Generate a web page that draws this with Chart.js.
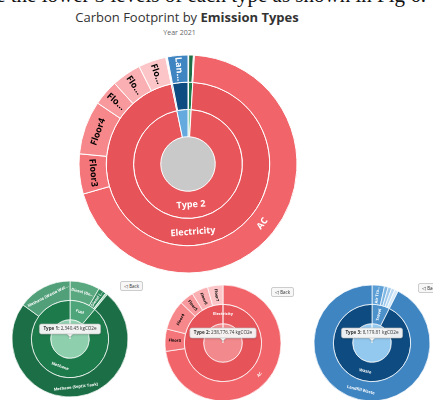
<!DOCTYPE html>
<html>
<head>
<meta charset="utf-8">
<script src="https://cdn.jsdelivr.net/npm/chart.js@4"></script>
<style>
  html, body { margin: 0; padding: 0; background: #fff; }
  body { width: 433px; height: 400px; position: relative; overflow: hidden; font-family: "Open Sans", sans-serif; }
  .caption { position: absolute; right: 7px; top: -15px; font: 21px/20px "Liberation Serif", serif; color: #111; white-space: nowrap; }
  .title { position: absolute; top: 8px; left: 0; width: 374px; text-align: center; font-size: 13px; color: #333; }
  .subtitle { position: absolute; top: 28px; left: 0; width: 359px; text-align: center; font-size: 7px; color: #666; }
  .box { position: absolute; }
  .back { position: absolute; font-size: 4.5px; line-height: 8px; padding: 0 3px; color: #333;
          background: #f7f7f7; border: 1px solid #cccccc; border-radius: 2px; white-space: nowrap; }
</style>
</head>
<body>
<div class="caption">are the lower 3 levels of each type as shown in Fig 6.</div>
<div class="title">Carbon Footprint by <b>Emission Types</b></div>
<div class="subtitle">Year 2021</div>

<div class="box" style="left:78px; top:54px; width:220px; height:220px;"><canvas id="main-chart"></canvas></div>
<div class="box" style="left:11px; top:280px; width:118px; height:118px;"><canvas id="type1-chart"></canvas></div>
<div class="box" style="left:164px; top:284px; width:118px; height:118px;"><canvas id="type2-chart"></canvas></div>
<div class="box" style="left:313px; top:284px; width:118px; height:118px;"><canvas id="type3-chart"></canvas></div>

<div class="back" style="left:120px; top:281px;">◁ Back</div>
<div class="back" style="left:271px; top:287px;">◁ Back</div>
<div class="back" style="left:418px; top:283px;">◁ Back</div>

<script>
// Level 1: emission types (kgCO2e)
const typeNames = ['Type 1', 'Type 2', 'Type 3'];
const typeTotals = [2340.45, 238776.74, 8179.81];

// Level 2: categories, with the type each one sits under
const categoryNames = ['Fuel', 'Methane', 'Electricity', 'Travel', 'Waste'];
const categoryType = [0, 0, 1, 2, 2];

// Level 3: sources, with their category and value (kgCO2e)
const sourceNames = ['Diesel (Generator)', 'Diesel (Vehicles)', 'Petrol',
    'Methane (Septic Tank)', 'Methane (Waste Water)',
    'AC', 'Floor3', 'Floor4', 'Floor5', 'Floor6', 'Floor7',
    'Air Travel', 'Taxi', 'Bus', 'Train', 'Car Hire', 'Landfill Waste'];
const sourceCategory = [0, 0, 0, 1, 1, 2, 2, 2, 2, 2, 2, 3, 3, 3, 3, 3, 4];
const sourceValues = [195, 52, 13, 1729.35, 351.1,
    173546.74, 14820, 19800, 9490, 10870, 10250,
    284, 85, 80, 78, 82, 7570.81];

// Colours
const rootGrey = '#c9c9c9';
const typeColors = ['#86d2a6', '#e8565c', '#65aade'];
const typeRootColors = ['#8ecfad', '#f2898d', '#93c9ef'];
const categoryColors = ['#4ea57a', '#1d7a4b', '#e6545a', '#4d91cb', '#0d4b80'];
const sourceColors = ['#5aa880', '#2f8a5e', '#a6dcbf', '#1b6e45', '#52a07a',
    '#f1646a', '#f4767b', '#f6878b', '#f89a9d', '#faafb2', '#fcc6c8',
    '#5b9fd6', '#80b6e2', '#9dc8eb', '#b9d9f2', '#d4e8f7', '#3e85c2'];

const categoryValues = categoryNames.map((n, c) =>
    sourceValues.reduce((s, v, i) => s + (sourceCategory[i] === c ? v : 0), 0));

function isLight(hex) {
    const n = parseInt(hex.slice(1), 16);
    return 0.299 * (n >> 16) + 0.587 * ((n >> 8) & 255) + 0.114 * (n & 255) > 150;
}

function fitText(ctx, text, max) {
    if (ctx.measureText(text).width <= max) return text;
    for (let n = text.length - 1; n > 0; n--) {
        const t = text.slice(0, n).trimEnd() + '…';
        if (ctx.measureText(t).width <= max) return t;
    }
    return '';
}

// Sunburst style labels: along the arc when there is room, otherwise radial
const sunburstLabels = {
    id: 'sunburstLabels',
    afterDatasetsDraw(chart, args, opts) {
        const ctx = chart.ctx;
        const size = opts.size || 9;
        ctx.save();
        ctx.font = 'bold ' + size + 'px "Open Sans"';
        ctx.textAlign = 'center';
        ctx.textBaseline = 'middle';
        chart.data.datasets.forEach((ds, di) => {
            if (!ds.labels) return;
            chart.getDatasetMeta(di).data.forEach((arc, i) => {
                const text = ds.labels[i];
                if (!text) return;
                const p = arc.getProps(['x', 'y', 'startAngle', 'endAngle', 'innerRadius', 'outerRadius'], true);
                const span = p.endAngle - p.startAngle;
                const r = (p.innerRadius + p.outerRadius) / 2;
                const thick = p.outerRadius - p.innerRadius;
                let mid = p.startAngle + span / 2;
                let rot, avail;
                if (span > Math.PI * 2 - 1e-6) {
                    mid = -Math.PI / 2; rot = 0; avail = thick * 3;
                } else if (span * r > thick) {
                    rot = mid + Math.PI / 2; avail = span * r;
                } else {
                    if (span * r < size * 1.6) return;
                    rot = mid; avail = thick - 1;
                }
                rot = Math.atan2(Math.sin(rot), Math.cos(rot));
                if (rot > Math.PI / 2) rot -= Math.PI;
                else if (rot < -Math.PI / 2) rot += Math.PI;
                const label = fitText(ctx, text, avail);
                if (!label) return;
                ctx.save();
                ctx.translate(p.x + r * Math.cos(mid), p.y + r * Math.sin(mid));
                ctx.rotate(rot);
                ctx.fillStyle = isLight(arc.options.backgroundColor) ? '#000' : '#fff';
                ctx.fillText(label, 0, 0);
                ctx.restore();
            });
        });
        ctx.restore();
    }
};

// Tooltip box pinned above the centre of a drilled-down chart
const centreTip = {
    id: 'centreTip',
    afterDraw(chart, args, opts) {
        if (!opts.name) return;
        const ctx = chart.ctx;
        const arc = chart.getDatasetMeta(0).data[0];
        const cx = arc.x, cy = arc.y;
        const value = opts.value.toLocaleString('en-US', {minimumFractionDigits: 2, maximumFractionDigits: 2}) + ' kgCO2e';
        ctx.save();
        ctx.font = 'bold 4.6px "Open Sans"';
        const w1 = ctx.measureText(opts.name + ': ').width;
        ctx.font = '4.6px "Open Sans"';
        const w2 = ctx.measureText(value).width;
        const w = w1 + w2 + 8, h = 10;
        const bx = cx - w / 2, by = cy - 5 - h;
        ctx.beginPath();
        ctx.roundRect(bx, by, w, h, 2);
        ctx.moveTo(cx - 3, by + h);
        ctx.lineTo(cx, by + h + 3);
        ctx.lineTo(cx + 3, by + h);
        ctx.shadowColor = 'rgba(0,0,0,0.2)';
        ctx.shadowBlur = 2;
        ctx.shadowOffsetY = 1;
        ctx.fillStyle = 'rgba(248,248,248,0.95)';
        ctx.fill();
        ctx.shadowColor = 'transparent';
        ctx.strokeStyle = '#bdbdbd';
        ctx.lineWidth = 0.6;
        ctx.stroke();
        ctx.fillStyle = '#333';
        ctx.textBaseline = 'middle';
        ctx.font = 'bold 4.6px "Open Sans"';
        ctx.fillText(opts.name + ': ', bx + 4, by + h / 2);
        ctx.font = '4.6px "Open Sans"';
        ctx.fillText(value, bx + 4 + w1, by + h / 2);
        ctx.restore();
    }
};

function ring(data, colors, labels, border) {
    return {data: data, backgroundColor: colors, labels: labels, borderColor: '#ffffff', borderWidth: border};
}

function sunburst(canvasId, datasets, radius, labelSize, tip) {
    return new Chart(document.getElementById(canvasId), {
        type: 'doughnut',
        data: {datasets: datasets},
        options: {
            responsive: true,
            maintainAspectRatio: false,
            animation: false,
            events: [],
            cutout: 0,
            radius: radius,
            plugins: {
                legend: {display: false},
                tooltip: {enabled: false},
                sunburstLabels: {size: labelSize},
                centreTip: tip || {}
            }
        },
        plugins: [sunburstLabels, centreTip]
    });
}

// Main chart: all three types
const grandTotal = typeTotals.reduce((a, b) => a + b, 0);
sunburst('main-chart', [
    ring(sourceValues, sourceColors, sourceNames, 1),
    ring(categoryValues, categoryColors, categoryNames, 1),
    ring(typeTotals, typeColors, typeNames, 1),
    ring([grandTotal], [rootGrey], null, 0)
], 109, 9);

// Drilled-down chart for one type
function typeChart(canvasId, t) {
    const cats = categoryNames.map((n, c) => c).filter(c => categoryType[c] === t);
    const srcs = sourceNames.map((n, i) => i).filter(i => cats.includes(sourceCategory[i]));
    sunburst(canvasId, [
        ring(srcs.map(i => sourceValues[i]), srcs.map(i => sourceColors[i]), srcs.map(i => sourceNames[i]), 0.7),
        ring(cats.map(c => categoryValues[c]), cats.map(c => categoryColors[c]), cats.map(c => categoryNames[c]), 0.7),
        ring([typeTotals[t]], [typeRootColors[t]], null, 0.7)
    ], 58, 4, {name: typeNames[t], value: typeTotals[t]});
}

typeChart('type1-chart', 0);
typeChart('type2-chart', 1);
typeChart('type3-chart', 2);
</script>
</body>
</html>
